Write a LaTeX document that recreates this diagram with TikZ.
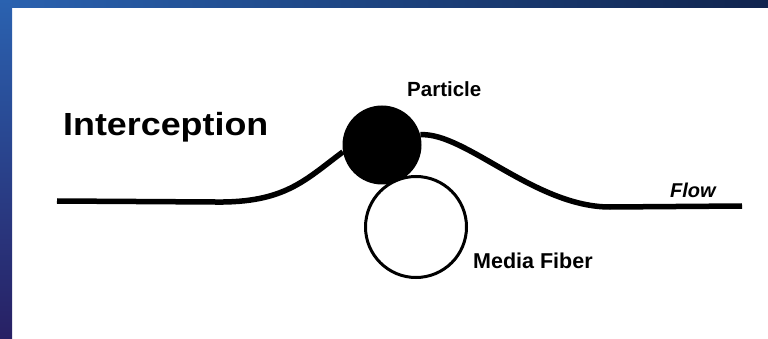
\documentclass[tikz,border=0pt]{standalone}
\usepackage{fontspec}
\setmainfont{Liberation Sans}
\usetikzlibrary{positioning,backgrounds}

\definecolor{framelight}{RGB}{42,98,176}
\definecolor{framemid}{RGB}{44,58,140}
\definecolor{framedark}{RGB}{16,36,78}
\definecolor{framemidleft}{RGB}{26,86,136}
\definecolor{framebot}{RGB}{40,32,100}

\begin{document}
\begin{tikzpicture}[x=1pt, y=-1pt,
    flowline/.style     = {line width=5.5pt, black},
    particlenode/.style = {circle, fill=black, minimum size=79pt, inner sep=0pt},
    fibernode/.style    = {circle, draw=black, line width=3pt, fill=white,
                           minimum size=101pt, inner sep=0pt},
    lbl/.style          = {inner sep=0pt, anchor=base west}
  ]
  \useasboundingbox (0,0) rectangle (768,339);

  % frame
  \shade[left color=framelight, middle color=framemid, right color=framedark]
    (0,0) rectangle (768,8);
  \shade[top color=framelight, middle color=framemidleft, bottom color=framebot]
    (0,0) rectangle (12,339);

  \node[fibernode] (fiber) at (416,227) {};
  \node[particlenode] (particle) at (382,145) {};

  \coordinate (start) at (57,201);
  \coordinate (stop)  at (742,206);

  % flow line passes behind the particle
  \begin{scope}[on background layer]
    \draw[flowline] (start) -- (215,202)
      .. controls (285,203) and (305,180) .. (particle.190);
    \draw[flowline] (particle.15)
      .. controls (465,132) and (535,207) .. (610,207) -- (stop);
  \end{scope}

  \node[lbl, font=\bfseries\fontsize{20.5}{20.5}\selectfont] (partlbl) at (407,97) {Particle};
  \node[lbl, font=\bfseries\fontsize{21.5}{21.5}\selectfont] (fiberlbl) at (473,268) {Media Fiber};
  \node[lbl, font=\bfseries\itshape\fontsize{20}{20}\selectfont] (flowlbl) at (670,198) {Flow};
  \node[lbl, font=\bfseries\fontsize{32}{32}\selectfont] (title) at (63,136)
    {\scalebox{1.12}[1]{Interception}};
\end{tikzpicture}
\end{document}
